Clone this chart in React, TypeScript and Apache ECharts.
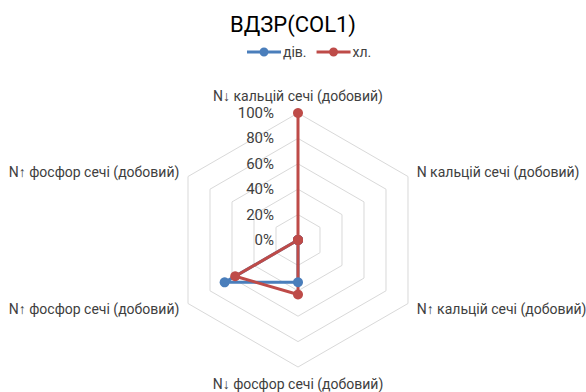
import React, { useEffect, useRef } from "react";
import * as echarts from "echarts";

// indicators in clockwise order starting at the top
const indicators = [
  "N↓ кальцій сечі (добовий)",
  "N кальцій сечі (добовий)",
  "N↑ кальцій сечі (добовий)",
  "N↓ фосфор сечі (добовий)",
  "N↑ фосфор сечі (добовий)",
  "N↑ фосфор сечі (добовий)",
];
const seriesNames = ["дів.", "хл."];
const divValues = [0, 0, 0, 33.3, 66.7, 0];
const khlValues = [100, 0, 0, 42.9, 57.1, 0];
const colors = ["#4A7EBB", "#BE4B48"];

const FONT = "Roboto";

// ECharts radar runs counter-clockwise; reorder to get clockwise layout
const order = [0, 5, 4, 3, 2, 1];
const reorder = <T,>(arr: T[]) => order.map((i) => arr[i]);

const legendIcon =
  "path://M0,3.5 L34,3.5 L34,6.5 L0,6.5 Z M12.5,5 A4.5,4.5 0 1,1 21.5,5 A4.5,4.5 0 1,1 12.5,5 Z";

export default function App() {
  const ref = useRef<HTMLDivElement>(null);
  useEffect(() => {
    if (!ref.current) return;
    const chart = echarts.init(ref.current, undefined, { renderer: "svg" });
    chart.setOption({
      animation: false,
      backgroundColor: "#fff",
      textStyle: { fontFamily: FONT },
      title: {
        text: "ВДЗР(COL1)",
        left: "center",
        top: 8,
        textStyle: { fontFamily: FONT, fontSize: 22, fontWeight: "normal", color: "#000" },
      },
      legend: {
        top: 40,
        left: 242,
        itemWidth: 34,
        itemHeight: 10,
        itemGap: 10,
        textStyle: { fontFamily: FONT, fontSize: 14, color: "#404040", padding: [0, 0, 0, -3] },
        data: seriesNames.map((n) => ({ name: n, icon: legendIcon })),
      },
      radar: {
        center: [298, 240],
        radius: 127,
        startAngle: 90,
        shape: "polygon",
        splitNumber: 5,
        nameGap: 10,
        axisName: { color: "#404040", fontFamily: FONT, fontSize: 14 },
        axisLine: { show: false },
        axisTick: { show: false },
        splitArea: { show: false },
        splitLine: { lineStyle: { color: "#D9D9D9", width: 1 } },
        axisLabel: { show: false },
        indicator: reorder(
          indicators.map((n, i) => ({
            name: n,
            min: 0,
            max: 100,
            axisLabel:
              i === 0
                ? {
                    show: true,
                    margin: 24,
                    color: "#404040",
                    fontFamily: FONT,
                    fontSize: 15,
                    formatter: (v: number) => v + "%",
                  }
                : { show: false },
          }))
        ),
      },
      series: [
        {
          type: "radar",
          symbol: "circle",
          symbolSize: 10,
          data: [
            {
              name: seriesNames[0],
              value: reorder(divValues),
              itemStyle: { color: colors[0] },
              lineStyle: { color: colors[0], width: 3 },
            },
            {
              name: seriesNames[1],
              value: reorder(khlValues),
              itemStyle: { color: colors[1] },
              lineStyle: { color: colors[1], width: 3 },
            },
          ],
        },
      ],
    });
    return () => chart.dispose();
  }, []);
  return (
    <div
      ref={ref}
      style={{ position: "fixed", left: 0, top: 0, width: 586, height: 392 }}
    />
  );
}
